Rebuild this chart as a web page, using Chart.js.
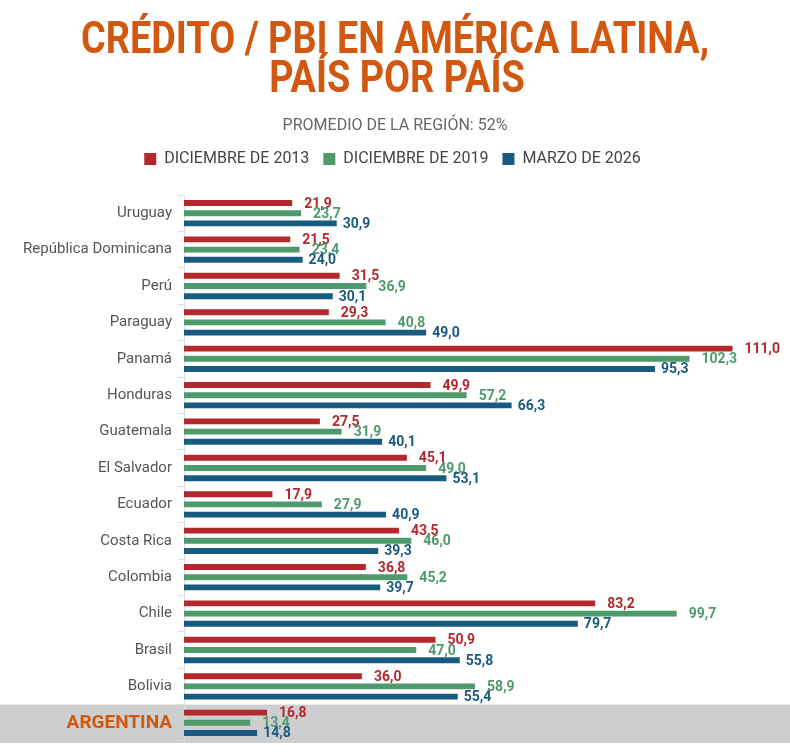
<!DOCTYPE html>
<html>
<head>
<meta charset="utf-8">
<script src="https://cdn.jsdelivr.net/npm/chart.js@4"></script>
<style>
  body { margin: 0; background: #fff; }
  #wrap { position: relative; width: 790px; height: 753px; overflow: hidden; }
  #chart { position: absolute; left: 0; top: 0; }
  .title { position: absolute; left: 0; width: 790px; text-align: center; font: 700 45px/40px Roboto, sans-serif; color: #d2570f; transform: scaleX(0.84); }
  #sub { position: absolute; left: 0; top: 115px; width: 790px; text-align: center; font: 400 16px/20px Roboto, sans-serif; color: #666; }
</style>
</head>
<body>
<div id="wrap">
  <canvas id="chart" width="790" height="753"></canvas>
  <div class="title" style="top:18px">CRÉDITO / PBI EN AMÉRICA LATINA,</div>
  <div class="title" style="top:57px;left:2px">PAÍS POR PAÍS</div>
  <div id="sub">PROMEDIO DE LA REGIÓN: 52%</div>
</div>
<script>
// Datos
const paises = ['Uruguay', 'República Dominicana', 'Perú', 'Paraguay', 'Panamá', 'Honduras', 'Guatemala',
    'El Salvador', 'Ecuador', 'Costa Rica', 'Colombia', 'Chile', 'Brasil', 'Bolivia', 'ARGENTINA'];
const dic2013 = [21.9, 21.5, 31.5, 29.3, 111.0, 49.9, 27.5, 45.1, 17.9, 43.5, 36.8, 83.2, 50.9, 36.0, 16.8];
const dic2019 = [23.7, 23.4, 36.9, 40.8, 102.3, 57.2, 31.9, 49.0, 27.9, 46.0, 45.2, 99.7, 47.0, 58.9, 13.4];
const mar2026 = [30.9, 24.0, 30.1, 49.0, 95.3, 66.3, 40.1, 53.1, 40.9, 39.3, 39.7, 79.7, 55.8, 55.4, 14.8];
const series = ['DICIEMBRE DE 2013', 'DICIEMBRE DE 2019', 'MARZO DE 2026'];

const ROJO = '#b3282d', VERDE = '#4f9a6c', AZUL = '#195a80', NARANJA = '#d2570f';
const destacado = 'ARGENTINA';

// Franja gris detrás de Argentina
const franja = {
    id: 'franja',
    beforeDraw(chart) {
        const y = chart.scales.y, ctx = chart.ctx;
        const i = paises.indexOf(destacado);
        const paso = (y.bottom - y.top) / paises.length;
        const top = y.top + i * paso;
        ctx.save();
        ctx.fillStyle = '#cdcecf';
        ctx.fillRect(0, top, chart.width, paso + 2);
        ctx.restore();
    }
};

// Valores al final de cada barra
const etiquetas = {
    id: 'etiquetas',
    afterDatasetsDraw(chart) {
        const ctx = chart.ctx;
        ctx.save();
        ctx.font = 'bold 14px Roboto';
        ctx.textBaseline = 'middle';
        chart.data.datasets.forEach((ds, d) => {
            chart.getDatasetMeta(d).data.forEach((bar, i) => {
                ctx.fillStyle = ds.backgroundColor;
                ctx.fillText(ds.data[i].toFixed(1).replace('.', ','), bar.x + ds.labelOffset, bar.y + 1);
            });
        });
        ctx.restore();
    }
};

// Separación extra debajo de la leyenda
const leyendaAire = {
    id: 'leyendaAire',
    beforeInit(chart) {
        const fit = chart.legend.fit;
        chart.legend.fit = function () { fit.call(this); this.height += 18; };
    }
};

new Chart(document.getElementById('chart'), {
    type: 'bar',
    data: {
        labels: paises,
        datasets: [
            { label: series[0], data: dic2013, backgroundColor: ROJO, labelOffset: 12 },
            { label: series[1], data: dic2019, backgroundColor: VERDE, labelOffset: 12 },
            { label: series[2], data: mar2026, backgroundColor: AZUL, labelOffset: 6 }
        ]
    },
    options: {
        responsive: false, animation: false, indexAxis: 'y',
        categoryPercentage: 0.84, barPercentage: 0.58,
        layout: { padding: { top: 137, left: 8, right: 13, bottom: 12 } },
        plugins: {
            legend: {
                position: 'top',
                labels: { boxWidth: 12, boxHeight: 12, padding: 14, color: '#444', font: { family: 'Roboto', size: 16 } }
            },
            tooltip: { enabled: false }
        },
        scales: {
            x: { display: false, min: 0, max: 120 },
            y: {
                afterFit(scale) { scale.width = 176; scale.paddingTop = 0; scale.paddingBottom = 0; },
                border: { display: true, color: '#dcdcdc' },
                grid: { display: true, drawOnChartArea: false, offset: true, tickLength: 6, color: '#dcdcdc' },
                ticks: {
                    autoSkip: false, padding: 6,
                    color: (c) => paises[c.index] === destacado ? NARANJA : '#555',
                    font: (c) => paises[c.index] === destacado
                        ? { family: 'Roboto', size: 19, weight: 'bold' }
                        : { family: 'Roboto', size: 15 }
                }
            }
        }
    },
    plugins: [franja, etiquetas, leyendaAire]
});
</script>
</body>
</html>
